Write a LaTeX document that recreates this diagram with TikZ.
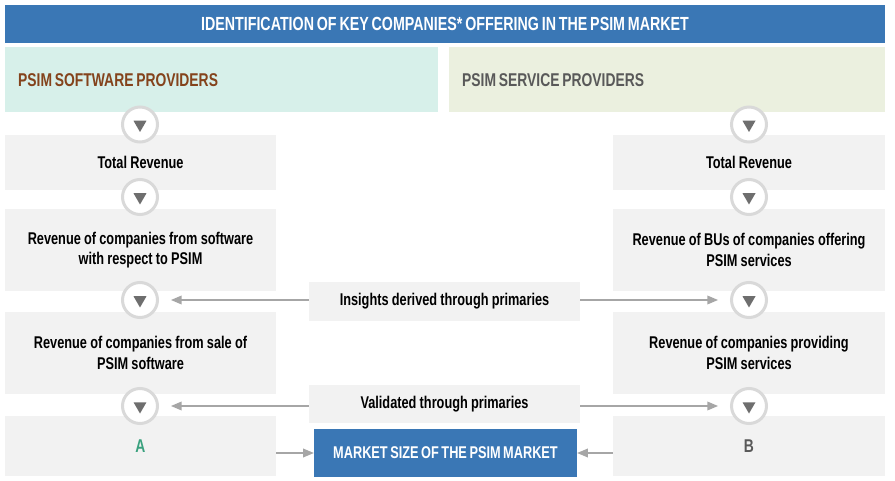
\documentclass[tikz,border=0pt]{standalone}
\usepackage{xcolor}
\usepackage{fontspec}
\setmainfont{Liberation Sans}[FakeStretch=0.75, WordSpace=0.72]
\usepackage{tikz}
\usetikzlibrary{positioning, shapes, calc, arrows}

\definecolor{psimblue}{HTML}{3A77B5}
\definecolor{boxgray}{HTML}{F2F2F2}
\definecolor{ringgray}{HTML}{D9D9D9}
\definecolor{tipgray}{HTML}{6E6E6E}
\definecolor{linegray}{HTML}{A6A6A6}
\definecolor{softhead}{HTML}{D7F0EA}
\definecolor{servhead}{HTML}{EBF0DF}
\definecolor{softtext}{HTML}{84431C}
\definecolor{servtext}{HTML}{595959}
\definecolor{agreen}{HTML}{3AA17E}

\begin{document}
\begin{tikzpicture}[x=1pt, y=-1pt, font=\fontsize{17}{20.5}\selectfont\bfseries]

		\tikzstyle{step box}=[rectangle, fill=boxgray, draw=none, inner sep=0pt, minimum width=271pt, text width=262pt, align=center, execute at begin node={\spaceskip=0.19em\relax}]
		\tikzstyle{ring}=[circle, draw=ringgray, line width=3pt, fill=white, minimum size=35pt, inner sep=0pt]
		\tikzstyle{tip}=[regular polygon, regular polygon sides=3, shape border rotate=180, fill=tipgray, minimum size=15pt, inner sep=0pt]
		\tikzstyle{flow}=[draw=linegray, line width=1.5pt, -triangle 45]

		\useasboundingbox (0,0) rectangle (895,481);

		% title and headers
		\node (title) at (445,24) [rectangle, fill=psimblue, minimum width=880pt, minimum height=38pt, inner sep=0pt, text=white, font=\fontsize{19}{20}\selectfont\bfseries] {IDENTIFICATION OF KEY COMPANIES* OFFERING IN THE PSIM MARKET};
		\node (softbg) at (221.5,79.5) [rectangle, fill=softhead, minimum width=433pt, minimum height=65pt, inner sep=0pt] {};
		\node (servbg) at (667,79.5) [rectangle, fill=servhead, minimum width=436pt, minimum height=65pt, inner sep=0pt] {};
		\node (softhd) at (18,80) [anchor=west, inner sep=0pt, text=softtext, font=\fontsize{18.5}{20}\selectfont\bfseries] {PSIM SOFTWARE PROVIDERS};
		\node (servhd) at (462,80) [anchor=west, inner sep=0pt, text=servtext, font=\fontsize{18.5}{20}\selectfont\bfseries] {PSIM SERVICE PROVIDERS};

		% left column
		\node (l1) at (140.5,162.5) [step box, minimum height=55pt] {Total Revenue};
		\node (l2) at (140.5,250) [step box, minimum height=82pt] {Revenue of companies from software\\with respect to PSIM};
		\node (l3) at (140.5,353) [step box, minimum height=82pt] {Revenue of companies from sale of\\PSIM software};
		\node (la) at (140.5,446) [step box, minimum height=60pt, text=agreen, font=\fontsize{18.5}{20}\selectfont\bfseries] {A};

		% right column
		\node (r1) at (749,162.5) [step box, minimum height=55pt, minimum width=272pt] {Total Revenue};
		\node (r2) at (749,250) [step box, minimum height=82pt, minimum width=272pt] {Revenue of BUs of companies offering\\PSIM services};
		\node (r3) at (749,353) [step box, minimum height=82pt, minimum width=272pt] {Revenue of companies providing\\PSIM services};
		\node (rb) at (749,446) [step box, minimum height=60pt, minimum width=272pt, text=servtext, font=\fontsize{18.5}{20}\selectfont\bfseries] {B};

		% middle
		\node (insights) at (444.5,301.5) [step box, minimum height=39pt] {Insights derived through primaries};
		\node (valid) at (444.5,404) [step box, minimum height=38pt] {Validated through primaries};
		\node (market) at (445.5,453) [rectangle, fill=psimblue, minimum width=263pt, minimum height=48pt, inner sep=0pt, text=white] {MARKET SIZE OF THE PSIM MARKET};

		% rings
		\node (lc1) at (140,124.5) [ring] {};
		\node (lc2) at (140,197) [ring] {};
		\node (lc3) at (140,300) [ring] {};
		\node (lc4) at (140,406) [ring] {};
		\node (rc1) at (749,124.5) [ring] {};
		\node (rc2) at (749,197) [ring] {};
		\node (rc3) at (749,300) [ring] {};
		\node (rc4) at (749,406) [ring] {};
		\foreach \c in {lc1,lc2,lc3,lc4,rc1,rc2,rc3,rc4}
			\node at (\c) [tip] {};

		% connectors
		\draw [flow, shorten >=12pt] (insights.west |- lc3) -- (lc3.east);
		\draw [flow, shorten >=12pt] (insights.east |- rc3) -- (rc3.west);
		\draw [flow, shorten >=12pt] (valid.west |- lc4) -- (lc4.east);
		\draw [flow, shorten >=12pt] (valid.east |- rc4) -- (rc4.west);
		\draw [flow] (la.east |- market) -- (market.west);
		\draw [flow] (rb.west |- market) -- (market.east);

\end{tikzpicture}
\end{document}
